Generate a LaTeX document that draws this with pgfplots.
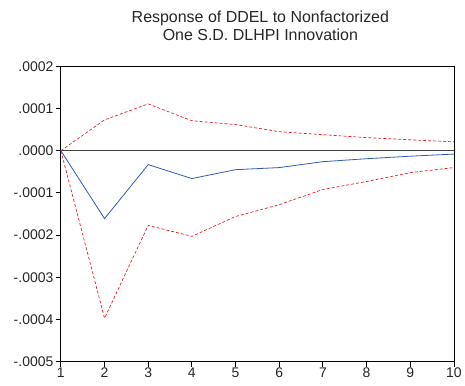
\documentclass[border=0pt]{standalone}
\usepackage{pgfplots}
\pgfplotsset{compat=1.18}
\usepackage{fontspec}
\setmainfont{Liberation Sans}
\definecolor{eblue}{RGB}{50,90,175}
\definecolor{ered}{RGB}{240,30,40}
\begin{document}
\begin{tikzpicture}[x=1pt,y=1pt]
\begin{axis}[
  scale only axis,
  width=394pt, height=296pt,
  xmin=1, xmax=10, ymin=-0.0005, ymax=0.0002,
  xtick={1,...,10},
  ytick={-0.0005,-0.0004,-0.0003,-0.0002,-0.0001,0,0.0001,0.0002},
  yticklabels={-.0005,-.0004,-.0003,-.0002,-.0001,.0000,.0001,.0002},
  scaled y ticks=false,
  /pgf/number format/assume math mode=true,
  tick align=outside,
  xtick pos=bottom, ytick pos=left,
  major tick length=5pt,
  tick style={black, line width=0.8pt},
  axis line style={black, line width=0.8pt},
  ticklabel style={font=\fontsize{14}{15}\selectfont, text=black!85},
  xticklabel style={yshift=2pt},
  yticklabel style={xshift=1pt},
  clip=false,
]
\coordinate (sw) at (rel axis cs:0,0);
\coordinate (ne) at (rel axis cs:1,1);
\coordinate (tc) at (rel axis cs:0.5,1);
\addplot[black!75, line width=1pt, forget plot] coordinates {(1,0) (10,0)};
\addplot[ered, line width=0.7pt, dash pattern=on 3pt off 2pt] coordinates {
(1,0) (2,0.000073) (3,0.000111) (4,0.000071) (5,0.000062) (6,0.000045) (7,0.000038) (8,0.000031) (9,0.000026) (10,0.000021)};
\addplot[ered, line width=0.7pt, dash pattern=on 3pt off 2pt] coordinates {
(1,0) (2,-0.000397) (3,-0.000177) (4,-0.000203) (5,-0.000156) (6,-0.000128) (7,-0.000092) (8,-0.000073) (9,-0.000052) (10,-0.00004)};
\addplot[eblue, line width=0.8pt] coordinates {
(1,0) (2,-0.000161) (3,-0.000033) (4,-0.000066) (5,-0.000045) (6,-0.00004) (7,-0.000026) (8,-0.000019) (9,-0.000013) (10,-0.000008)};
\end{axis}
\path ([shift={(-61pt,-23.5pt)}]sw) rectangle ([shift={(10pt,66.5pt)}]ne);
\node[font=\fontsize{16}{18}\selectfont, text=black!85, anchor=base, inner sep=0pt] at ([shift={(3pt,43.5pt)}]tc) {Response of DDEL to Nonfactorized};
\node[font=\fontsize{16}{18}\selectfont, text=black!85, anchor=base, inner sep=0pt] at ([shift={(3pt,25.5pt)}]tc) {One S.D. DLHPI Innovation};
\end{tikzpicture}
\end{document}
